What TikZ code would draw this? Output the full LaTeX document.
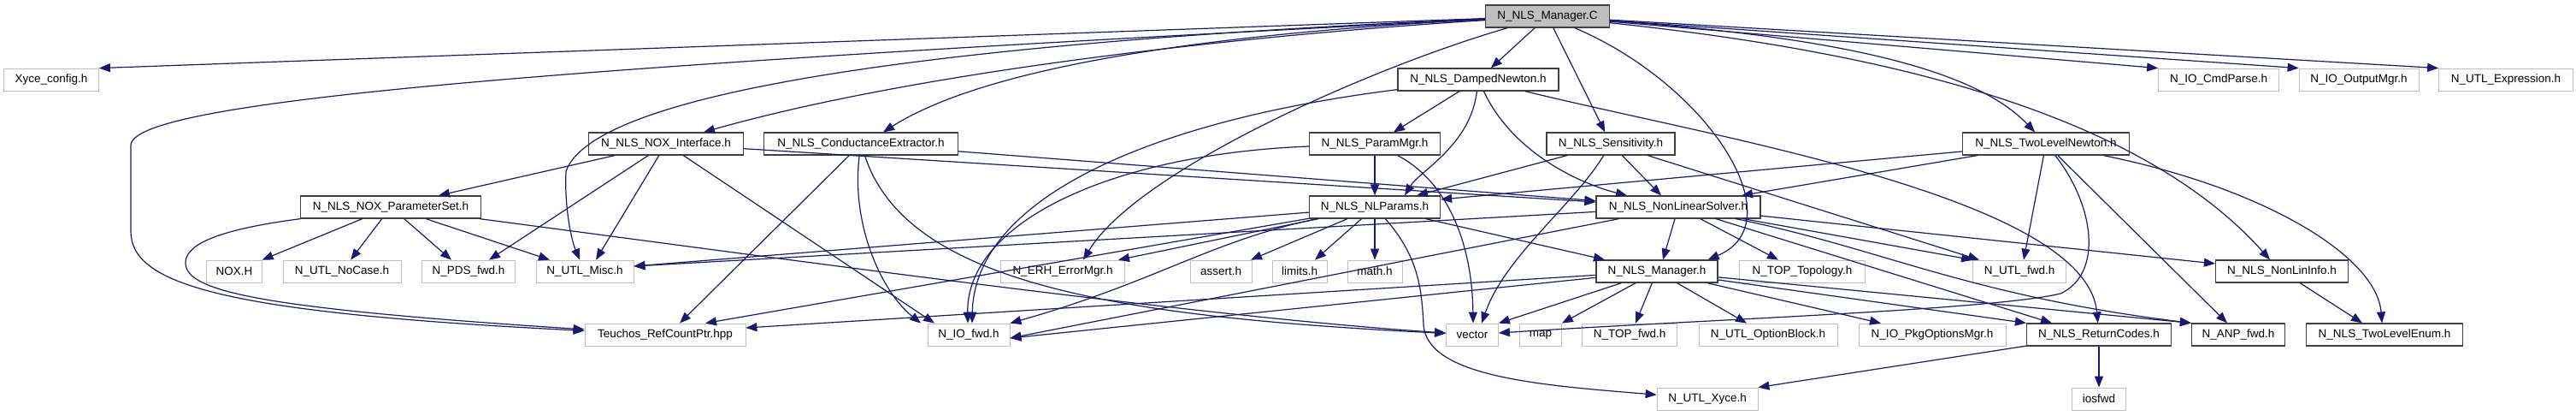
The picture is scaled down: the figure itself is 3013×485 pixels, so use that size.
\documentclass[tikz,border=0pt]{standalone}
\usepackage{fontspec}
\setmainfont{Liberation Sans}
\usetikzlibrary{arrows.meta}
\definecolor{edgec}{HTML}{191970}
\definecolor{gbord}{HTML}{BFBFBF}
\definecolor{bbord}{HTML}{404040}
\definecolor{rootfill}{HTML}{BFBFBF}
\tikzset{
  box/.style={rectangle, minimum height=26pt, inner sep=0pt, font=\fontsize{13.5}{16}\selectfont, text=black, fill=white},
  gbox/.style={box, draw=gbord, line width=0.8pt},
  bbox/.style={box, draw=bbord, line width=1.2pt},
  rbox/.style={bbox, fill=rootfill},
  e/.style={draw=edgec, line width=1.2pt, -{Triangle[length=13pt,width=10pt]}},
}
\begin{document}
\begin{tikzpicture}[x=1pt,y=-1pt]
\fill[white] (0,0) rectangle (3013,485);
\useasboundingbox (0,0) rectangle (3013,485);
% row 0
\node[rbox, minimum width=145pt] (mc) at (1810,19) {N\_NLS\_Manager.C};
% row 1
\node[gbox, minimum width=111pt] (xcfg) at (60,93) {Xyce\_config.h};
\node[bbox, minimum width=188pt] (dn) at (1729,93) {N\_NLS\_DampedNewton.h};
\node[gbox, minimum width=141pt] (cmd) at (2595,93) {N\_IO\_CmdParse.h};
\node[gbox, minimum width=140pt] (outm) at (2759,93) {N\_IO\_OutputMgr.h};
\node[gbox, minimum width=157pt] (expr) at (2931,93) {N\_UTL\_Expression.h};
% row 2
\node[bbox, minimum width=181pt] (noxi) at (779,168) {N\_NLS\_NOX\_Interface.h};
\node[bbox, minimum width=227pt] (ce) at (1007,168) {N\_NLS\_ConductanceExtractor.h};
\node[bbox, minimum width=153pt] (pm) at (1608,168) {N\_NLS\_ParamMgr.h};
\node[bbox, minimum width=150pt] (sens) at (1884,168) {N\_NLS\_Sensitivity.h};
\node[bbox, minimum width=195pt] (tln) at (2393,168) {N\_NLS\_TwoLevelNewton.h};
% row 3
\node[bbox, minimum width=211pt] (ps) at (457,242) {N\_NLS\_NOX\_ParameterSet.h};
\node[bbox, minimum width=153pt] (nlp) at (1608,242) {N\_NLS\_NLParams.h};
\node[bbox, minimum width=192pt] (nls) at (1963,242) {N\_NLS\_NonLinearSolver.h};
% row 4
\node[gbox, minimum width=65pt] (nox) at (274,317) {NOX.H};
\node[gbox, minimum width=138pt] (nocase) at (400,317) {N\_UTL\_NoCase.h};
\node[gbox, minimum width=109pt] (pds) at (548,317) {N\_PDS\_fwd.h};
\node[gbox, minimum width=114pt] (misc) at (684,317) {N\_UTL\_Misc.h};
\node[gbox, minimum width=145pt] (erh) at (1243,317) {N\_ERH\_ErrorMgr.h};
\node[gbox, minimum width=72pt] (asrt) at (1428,317) {assert.h};
\node[gbox, minimum width=64pt] (lim) at (1520,317) {limits.h};
\node[gbox, minimum width=64pt] (mth) at (1608,317) {math.h};
\node[bbox, minimum width=142pt] (mh) at (1938,317) {N\_NLS\_Manager.h};
\node[gbox, minimum width=147pt] (topo) at (2108,317) {N\_TOP\_Topology.h};
\node[gbox, minimum width=109pt] (utlfwd) at (2362,317) {N\_UTL\_fwd.h};
\node[bbox, minimum width=155pt] (nli) at (2669,317) {N\_NLS\_NonLinInfo.h};
% row 5
\node[gbox, minimum width=188pt] (teu) at (778,391) {Teuchos\_RefCountPtr.hpp};
\node[gbox, minimum width=96pt] (iofwd) at (1133,391) {N\_IO\_fwd.h};
\node[gbox, minimum width=61pt] (vec) at (1722,391) {vector};
\node[gbox, minimum width=49pt] (map) at (1802,391) {map};
\node[gbox, minimum width=111pt] (topfwd) at (1906,391) {N\_TOP\_fwd.h};
\node[gbox, minimum width=162pt] (optb) at (2068,391) {N\_UTL\_OptionBlock.h};
\node[gbox, minimum width=172pt] (pkg) at (2260,391) {N\_IO\_PkgOptionsMgr.h};
\node[bbox, minimum width=169pt] (rc) at (2455,391) {N\_NLS\_ReturnCodes.h};
\node[bbox, minimum width=109pt] (anp) at (2618,391) {N\_ANP\_fwd.h};
\node[bbox, minimum width=183pt] (tle) at (2789,391) {N\_NLS\_TwoLevelEnum.h};
% row 6
\node[gbox, minimum width=118pt] (xyce) at (1997,466) {N\_UTL\_Xyce.h};
\node[gbox, minimum width=63pt] (iosfwd) at (2455,466) {iosfwd};

% ---- edges from N_NLS_Manager.C
\draw[e] (mc) -- (xcfg.north east);
\draw[e] (mc) .. controls (600,80) and (153,120) .. (153,170) -- (153,270) .. controls (153,330) and (250,365) .. (teu);
\draw[e] (mc) .. controls (1200,45) and (700,95) .. (662,200) .. controls (660,240) and (668,280) .. (misc);
\draw[e] (mc) .. controls (1400,45) and (1050,90) .. ([xshift=44pt]noxi.north);
\draw[e] (mc) .. controls (1400,40) and (1150,80) .. ([xshift=26pt]ce.north);
\draw[e] (mc) .. controls (1600,80) and (1330,200) .. ([xshift=24pt]erh.north);
\draw[e] (mc) -- (dn);
\draw[e] (mc) -- (sens);
\draw[e] (mc) .. controls (2000,100) and (2100,260) .. ([xshift=-12pt]mh.north east);
\draw[e] (mc) .. controls (2100,40) and (2300,70) .. (tln);
\draw[e] (mc) .. controls (2200,60) and (2500,130) .. ([xshift=-14pt]nli.north);
\draw[e] (mc) -- (cmd.north west);
\draw[e] (mc) -- (outm.north west);
\draw[e] (mc) -- (expr.north west);
% ---- DampedNewton
\draw[e] (dn) .. controls (1350,140) and (1140,230) .. ([xshift=4pt]iofwd.north);
\draw[e] (dn) -- (pm);
\draw[e] (dn) .. controls (1720,170) and (1660,200) .. ([xshift=35pt]nlp.north);
\draw[e] (dn) .. controls (1770,180) and (1850,215) .. ([xshift=-60pt]nls.north);
\draw[e] (dn) .. controls (2000,160) and (2440,230) .. (rc);
% ---- Sensitivity
\draw[e] (sens) -- ([xshift=49pt]nlp.north);
\draw[e] (sens) -- ([xshift=-20pt]nls.north);
\draw[e] (sens) .. controls (1840,240) and (1760,300) .. ([xshift=11pt]vec.north);
\draw[e] (sens) -- ([xshift=-47pt]utlfwd.north);
% ---- ParamMgr
\draw[e] (pm) .. controls (1300,180) and (1130,260) .. ([xshift=-1pt]iofwd.north);
\draw[e] (pm) -- (nlp);
\draw[e] (pm) .. controls (1690,210) and (1722,280) .. ([xshift=1pt]vec.north);
% ---- NOX_Interface
\draw[e] (noxi) -- ([xshift=56pt]ps.north);
\draw[e] (noxi) -- ([xshift=24pt]pds.north);
\draw[e] (noxi) -- ([xshift=13pt]misc.north);
\draw[e] (noxi) -- ([xshift=-40pt]iofwd.north);
\draw[e] (noxi) -- (nls);
% ---- ConductanceExtractor
\draw[e] (ce) -- ([xshift=17pt]teu.north);
\draw[e] (ce) .. controls (995,260) and (1030,340) .. ([xshift=-56pt]iofwd.north);
\draw[e] (ce) .. controls (1060,330) and (1300,370) .. (vec);
\draw[e] (ce) -- (nls);
% ---- NOX_ParameterSet
\draw[e] (ps) .. controls (240,270) and (217,290) .. (217,307) .. controls (217,340) and (300,360) .. (teu);
\draw[e] (ps) -- (nox);
\draw[e] (ps) -- (nocase);
\draw[e] (ps) -- ([xshift=-20pt]pds.north);
\draw[e] (ps) -- ([xshift=-41pt]misc.north);
\draw[e] (ps) .. controls (900,300) and (1400,370) .. (vec);
% ---- TwoLevelNewton
\draw[e] (tln) -- ([yshift=9pt]nlp.east);
\draw[e] (tln) -- ([xshift=74pt]nls.north);
\draw[e] (tln) -- ([xshift=5pt]utlfwd.north);
\draw[e] (tln) .. controls (2450,240) and (2460,320) .. (2410,343) .. controls (2330,362) and (2000,373) .. (vec);
\draw[e] (tln) -- ([xshift=-13pt]anp.north);
\draw[e] (tln) .. controls (2650,220) and (2780,300) .. ([xshift=-3pt]tle.north);
% ---- NLParams
\draw[e] (nlp) -- ([yshift=6pt]misc.east);
\draw[e] (nlp) -- ([xshift=65pt]erh.north);
\draw[e] (nlp) -- ([xshift=35pt]asrt.north);
\draw[e] (nlp) -- ([xshift=18pt]lim.north);
\draw[e] (nlp) -- (mth);
\draw[e] (nlp) -- ([xshift=-61pt]mh.north);
\draw[e] (nlp) .. controls (1660,300) and (1663,340) .. (1665,380) .. controls (1670,440) and (1800,450) .. (xyce);
\draw[e] (nlp) .. controls (1420,280) and (1350,330) .. (iofwd.north east);
\draw[e] (nlp) -- ([xshift=47pt]teu.north);
% ---- NonLinearSolver
\draw[e] (nls) -- ([yshift=6pt]misc.east);
\draw[e] (nls) -- ([yshift=-4pt]iofwd.east);
\draw[e] (nls) -- ([xshift=7pt]mh.north);
\draw[e] (nls) -- ([xshift=-28pt]topo.north);
\draw[e] (nls) -- (utlfwd.north west);
\draw[e] (nls) -- ([yshift=9pt]nli.west);
\draw[e] (nls) -- ([xshift=-55pt]rc.north);
\draw[e] (nls) .. controls (2200,290) and (2300,345) .. (anp.north west);
% ---- NLS_Manager.h
\draw[e] (mh) -- ([yshift=8pt]teu.east);
\draw[e] (mh) -- ([yshift=-4pt]iofwd.east);
\draw[e] (mh) -- (vec.north east);
\draw[e] (mh) -- (map.north east);
\draw[e] (mh) -- ([xshift=7pt]topfwd.north);
\draw[e] (mh) -- ([xshift=-25pt]optb.north);
\draw[e] (mh) -- ([xshift=-60pt]pkg.north);
\draw[e] (mh) -- (rc.north west);
\draw[e] (mh) -- (anp.north west);
% ---- others
\draw[e] (nli) -- ([xshift=-26pt]tle.north);
\draw[e] (rc) -- (xyce.north east);
\draw[e] (rc) -- (iosfwd);
\end{tikzpicture}
\end{document}
